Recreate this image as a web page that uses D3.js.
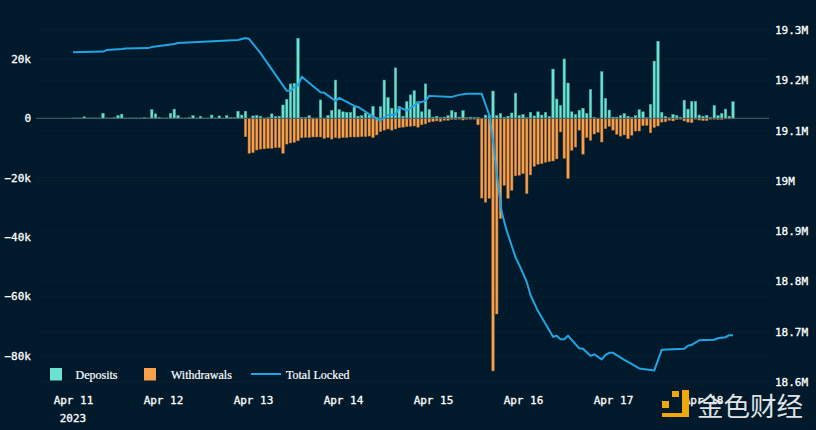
<!DOCTYPE html>
<html>
<head>
<meta charset="utf-8">
<style>
  html, body { margin: 0; padding: 0; background: #011a2b; }
  svg { display: block; }
  .tick text { font-family: "DejaVu Sans Mono", monospace; font-size: 11px; fill: #fff; stroke: #fff; stroke-width: 0.3px; }
  .legend text { font-family: "Liberation Serif", serif; font-size: 12px; fill: #fff; stroke: #fff; stroke-width: 0.2px; }
</style>
</head>
<body>
<svg></svg>
<script src="https://d3js.org/d3.v7.min.js"></script>
<script>

// hourly flows in thousands, first bar is Apr 11 00:00 UTC
var deposits = [
  0.1, 0.1, 0.1, 0.5, 0.1, 0.1, 0.1, 0.1, 1.7, 0.1,
  0.1, 0.2, 0.9, 1.4, 0.1, 0.1, 0.1, 0.1, 0.1, 0.2,
  0.1, 2.9, 1.5, 0.3, 0.1, 0.1, 1.7, 3.1, 0.9, 0.1,
  0.1, 0.2, 0.9, 0.1, 0.7, 0.1, 0.1, 1.1, 0.1, 0.8,
  0.1, 0.9, 0.2, 0.2, 2.4, 1.1, 2.4, 0.0, 0.8, 1.0,
  0.7, 0.1, 0.2, 1.5, 0.6, 0.7, 4.5, 6.4, 11.6, 11.8,
  27, 0.3, 0.3, 0.9, 0.1, 0.1, 6.2, 0.1, 1.0, 2.7,
  12.9, 2.9, 2.2, 2.0, 2.0, 3.8, 0.7, 0.9, 1.8, 1.1,
  4.0, 0.3, 3.9, 12.9, 7.0, 3.4, 17, 4.0, 0.7, 5.6,
  7.9, 9.3, 5.6, 2.2, 11.6, 2.9, 0.4, 0.7, 0.3, 0.4,
  0.9, 2.6, 2.0, 0.4, 2.6, 0.2, 0.4, 0.3, 0.3, 0.0,
  1.1, 0.9, 9.2, 0.9, 1.6, 0.3, 0.7, 1.8, 8.5, 0.9,
  1.3, 0.2, 2.0, 0.8, 2.2, 1.1, 2.0, 0.6, 16.6, 6.5,
  4.3, 20, 11.9, 2.2, 1.3, 2.7, 3.4, 1.6, 9.7, 0.3,
  0.0, 15.7, 6.7, 2.8, 0.4, 0.4, 0.9, 1.6, 0.7, 0.3,
  0.9, 2.9, 2.2, 0.2, 4.7, 19.3, 26, 2.0, 0.7, 0.2,
  1.3, 0.9, 0.3, 6.1, 3.1, 5.7, 5.7, 1.1, 0.7, 1.0,
  0.2, 4.3, 0.9, 1.6, 3.1, 0.7, 5.6
];

var withdrawals = [
  0, 0, 0, 0, 0, 0, 0, 0, 0, 0,
  0, 0, 0, 0, 0, 0, 0, 0, 0, 0,
  0, 0, 0, 0, 0, 0, 0, 0, 0, 0,
  0, 0, 0, 0, 0, 0, 0, 0, 0, 0,
  0, 0, 0, 0, 0, 0, 6.2, 11.8, 11.6, 10.7,
  10.4, 10.3, 10.1, 10.1, 9.9, 9.9, 11.8, 8.7, 8.3, 8.1,
  7.6, 6.6, 6.4, 6.5, 6.3, 6.3, 6.3, 6.8, 6.5, 7.0,
  6.5, 6.7, 6.5, 6.5, 6.3, 6.3, 6.3, 6.2, 6.2, 6.0,
  6.5, 5.6, 4.5, 4.0, 3.6, 4.0, 3.6, 3.2, 3.0, 2.8,
  2.7, 2.6, 3.0, 2.2, 1.9, 1.3, 1.1, 0.9, 1.1, 0.7,
  0.7, 0.4, 0.4, 0.3, 0.6, 0.3, 0.3, 0.3, 2.2, 26.9,
  28.3, 27, 85.2, 66, 33.8, 22.6, 27, 24.3, 19.4, 19.2,
  18.7, 25.4, 19.1, 16.2, 15.5, 15.3, 14.8, 14.6, 14.4, 13.7,
  4.6, 13.5, 20.3, 10.8, 9.7, 4.0, 12.1, 6.5, 7.4, 5.3,
  4.7, 8.0, 3.5, 2.7, 4.0, 5.4, 6.0, 5.6, 6.9, 5.7,
  4.3, 4.3, 2.5, 2.4, 4.9, 3.1, 2.6, 1.3, 1.2, 0.7,
  0.9, 0.4, 0.3, 0.9, 1.3, 1.5, 0.3, 0.6, 0.8, 0.8,
  0.3, 0.3, 0.4, 0.4, 0.2, 0.2, 0.2
];

// total locked in millions, read at the hours where the line bends
var lockedHours = [
  0, 8, 9, 13, 14, 20, 21, 27, 28, 36, 44, 46, 47, 50, 57, 58, 59, 60, 61,
  66, 67, 70, 71, 75, 76, 80, 81, 82, 84, 86, 87, 89, 92, 94, 95, 101, 103,
  105, 109, 111, 112, 113, 114.3, 115.6, 118, 119, 121, 122, 124, 128, 129, 130,
  131, 132, 135, 136, 138, 139, 141, 142, 143, 144, 147, 148, 151, 155, 157,
  163, 164, 165, 167, 171, 172, 174, 175, 176
];
var lockedValues = [
  19.256, 19.257, 19.260, 19.262, 19.263, 19.264, 19.266, 19.272, 19.274, 19.277,
  19.280, 19.284, 19.282, 19.254, 19.179, 19.179, 19.186, 19.190, 19.207,
  19.176, 19.175, 19.159, 19.165, 19.149, 19.147, 19.128, 19.124, 19.120, 19.131,
  19.132, 19.146, 19.140, 19.155, 19.159, 19.169, 19.167, 19.171,
  19.173, 19.173, 19.131, 19.081, 19.015, 18.939, 18.902, 18.848, 18.833, 18.799,
  18.773, 18.741, 18.690, 18.692, 18.685,
  18.685, 18.692, 18.667, 18.666, 18.652, 18.655, 18.645, 18.654, 18.658, 18.658,
  18.644, 18.640, 18.627, 18.623, 18.664,
  18.666, 18.672, 18.674, 18.683, 18.684, 18.687, 18.689, 18.693, 18.693
];

var flowTicks = [20, 0, -20, -40, -60, -80];
var lockedTicks = [19.3, 19.2, 19.1, 19.0, 18.9, 18.8, 18.7, 18.6];
var dayTicks = ["2023-04-11", "2023-04-12", "2023-04-13", "2023-04-14", "2023-04-15", "2023-04-16", "2023-04-17", "2023-04-18"];
var legendNames = ["Deposits", "Withdrawals", "Total Locked"];

var width = 816,
    height = 430,
    hour = 3600000;

var svg = d3.select("svg").attr("width", width).attr("height", height);

var start = new Date("2023-04-11T00:00:00Z");

var x = d3.scaleUtc()
    .domain([start, new Date("2023-04-18T00:00:00Z")])
    .range([73, 703]);

var yFlow = d3.scaleLinear().domain([20, -80]).range([59, 355.5]);
var yLocked = d3.scaleLinear().domain([19.3, 18.6]).range([30, 382]);

function hourDate(h) { return new Date(start.getTime() + h * hour); }

// grid, one faint line per tick of either y axis
var grid = svg.append("g").attr("stroke", "#06202f").attr("stroke-width", 1);
flowTicks.forEach(function(t) {
  grid.append("line").attr("x1", 36).attr("x2", 769).attr("y1", yFlow(t)).attr("y2", yFlow(t));
});
lockedTicks.forEach(function(t) {
  grid.append("line").attr("x1", 36).attr("x2", 769).attr("y1", yLocked(t)).attr("y2", yLocked(t));
});

var barWidth = 2.5;

svg.append("g").selectAll("rect").data(deposits).enter().append("rect")
    .attr("x", function(d, i) { return x(hourDate(i)) - barWidth / 2; })
    .attr("width", barWidth)
    .attr("y", function(d) { return yFlow(d); })
    .attr("height", function(d) { return yFlow(0) - yFlow(d); })
    .attr("fill", "#6ee2d2")
    .attr("stroke", "#3aa79c")
    .attr("stroke-width", 0.5);

svg.append("g").selectAll("rect").data(withdrawals).enter().append("rect")
    .attr("x", function(d, i) { return x(hourDate(i)) - barWidth / 2; })
    .attr("width", barWidth)
    .attr("y", yFlow(0))
    .attr("height", function(d) { return yFlow(-d) - yFlow(0); })
    .attr("fill", "#f8a04e")
    .attr("stroke", "#a9682c")
    .attr("stroke-width", 0.5);

// zero line
svg.append("line")
    .attr("x1", 36).attr("x2", 769)
    .attr("y1", yFlow(0)).attr("y2", yFlow(0))
    .attr("stroke", "#4d5f6b").attr("stroke-width", 1);

var line = d3.line()
    .x(function(d, i) { return x(hourDate(lockedHours[i])); })
    .y(function(d) { return yLocked(d); });

svg.append("path")
    .datum(lockedValues)
    .attr("fill", "none")
    .attr("stroke", "#20a4e4")
    .attr("stroke-width", 2)
    .attr("stroke-linejoin", "round")
    .attr("d", line);

// axes
var leftAxis = d3.axisLeft(yFlow)
    .tickValues(flowTicks)
    .tickSize(0)
    .tickPadding(0)
    .tickFormat(function(d) { return d === 0 ? "0" : d3.format("d")(d).replace("-", "\u2212") + "k"; });

svg.append("g").attr("transform", "translate(31,0)").call(leftAxis)
    .call(function(g) { g.select(".domain").remove(); });

var rightAxis = d3.axisRight(yLocked)
    .tickValues(lockedTicks)
    .tickSize(0)
    .tickPadding(0)
    .tickFormat(function(d) { return (d === 19 ? "19" : d3.format(".1f")(d)) + "M"; });

svg.append("g").attr("transform", "translate(775,0)").call(rightAxis)
    .call(function(g) { g.select(".domain").remove(); });

var bottomAxis = d3.axisBottom(x)
    .tickValues(dayTicks.map(function(d) { return new Date(d + "T00:00:00Z"); }))
    .tickSize(0)
    .tickPadding(0)
    .tickFormat(d3.utcFormat("%b %d"));

var xg = svg.append("g").attr("transform", "translate(0,396)").call(bottomAxis);
xg.select(".domain").remove();
xg.append("g").attr("class", "tick").append("text")
    .attr("x", x(start)).attr("y", 26)
    .attr("text-anchor", "middle")
    .text("2023");

// legend
var legend = svg.append("g").attr("class", "legend");
legend.append("rect").attr("x", 50).attr("y", 368).attr("width", 12).attr("height", 12.5).attr("fill", "#6ee2d2");
legend.append("text").attr("x", 75.5).attr("y", 379).text(legendNames[0]);
legend.append("rect").attr("x", 144).attr("y", 368).attr("width", 12).attr("height", 12.5).attr("fill", "#f8a04e");
legend.append("text").attr("x", 171).attr("y", 379).text(legendNames[1]);
legend.append("line").attr("x1", 251).attr("x2", 281).attr("y1", 374).attr("y2", 374).attr("stroke", "#20a4e4").attr("stroke-width", 2);
legend.append("text").attr("x", 286).attr("y", 379).text(legendNames[2]);

// watermark
var mark = svg.append("g").attr("fill", "#f0a70a");
mark.append("path").attr("d", "M672 391h7v6h-7z M662 401h7v7h-7z M682 390h7v27h-27v-4h20z");
svg.append("text")
    .attr("x", 697).attr("y", 416)
    .attr("font-family", "'Noto Sans CJK SC', sans-serif")
    .attr("font-size", 26.5)
    .attr("fill", "#dfe2e4")
    .text("金色财经");

</script>
</body>
</html>
